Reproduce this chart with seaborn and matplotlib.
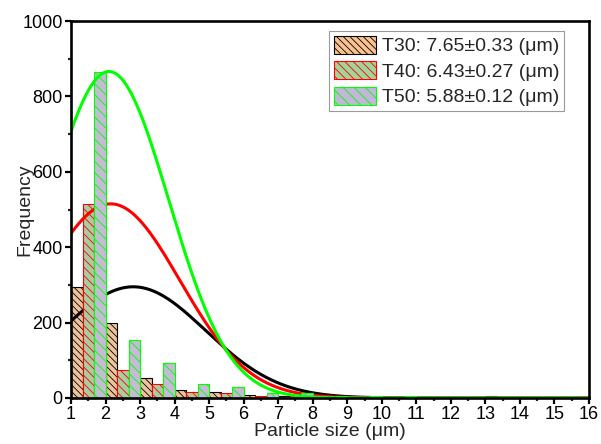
import numpy as np
import pandas as pd
import matplotlib
matplotlib.use("Agg")
import matplotlib.pyplot as plt
import seaborn as sns
from matplotlib.patches import Patch
from matplotlib.ticker import MultipleLocator

# Size bins (µm): each bin runs from its left edge to the next integer
bin_left = [1, 2, 3, 4, 5, 6, 7, 8, 9, 10, 11, 12, 13, 14, 15]

series = ["T30", "T40", "T50"]
t30_counts = [295, 200, 52, 21, 15, 7, 5, 3, 2, 1, 0, 0, 4, 0, 0]
t40_counts = [515, 73, 36, 15, 12, 6, 4, 3, 3, 1, 0, 0, 0, 0, 0]
t50_counts = [865, 153, 93, 37, 28, 12, 12, 6, 6, 6, 0, 0, 0, 0, 0]

legend_labels = ["T30: 7.65\u00b10.33 (\u03bcm)",
                 "T40: 6.43\u00b10.27 (\u03bcm)",
                 "T50: 5.88\u00b10.12 (\u03bcm)"]

# Gaussian fit parameters for each distribution
fit_center = [2.8, 2.15, 2.1]
fit_sigma = [2.1, 2.0, 1.73]
fit_peak = [295, 515, 866]

fill_colors = ["#FAC290", "#A3D49A", "#C3B7D9"]
line_colors = ["#000000", "#FF0000", "#00FF00"]
hatches = ["\\\\\\\\\\", "\\\\\\\\", "\\\\\\"]

sns.set_style("ticks")
plt.rcParams["font.family"] = ["Liberation Sans", "DejaVu Sans"]
plt.rcParams["hatch.linewidth"] = 0.6

df = pd.DataFrame({
    "center": np.concatenate([np.array(bin_left) + 0.5] * 3),
    "count": t30_counts + t40_counts + t50_counts,
    "series": np.repeat(series, len(bin_left)),
})

fig = plt.figure(figsize=(6.01, 4.44), dpi=100)
ax = fig.add_axes([71 / 601, 1 - 398 / 444, 518 / 601, 377 / 444])

sns.barplot(data=df, x="center", y="count", hue="series", hue_order=series,
            palette=dict(zip(series, fill_colors)), native_scale=True,
            width=1, gap=0, dodge=True, errorbar=None, legend=False,
            linewidth=0.8, ax=ax)

xs = np.linspace(1, 16, 600)
for k, cont in enumerate(ax.containers):
    for bar in cont:
        bar.set_edgecolor(line_colors[k])
        bar.set_hatch(hatches[k])
        bar.set_zorder(2 + k)
    ys = fit_peak[k] * np.exp(-(xs - fit_center[k]) ** 2 / (2 * fit_sigma[k] ** 2))
    sns.lineplot(x=xs, y=ys, color=line_colors[k], lw=2.2, ax=ax,
                 zorder=2.5 + k)

ax.set_xlim(1, 16)
ax.set_ylim(0, 1000)
ax.xaxis.set_major_locator(MultipleLocator(1))
ax.xaxis.set_minor_locator(MultipleLocator(0.5))
ax.yaxis.set_major_locator(MultipleLocator(200))
ax.yaxis.set_minor_locator(MultipleLocator(100))
ax.tick_params(which="major", length=4, width=1.6, labelsize=13, pad=2,
               colors="black")
ax.tick_params(which="minor", length=2.2, width=1.6)
for sp in ax.spines.values():
    sp.set_visible(True)
    sp.set_linewidth(1.9)
    sp.set_color("black")
    sp.set_zorder(10)

ax.set_xlabel("Particle size (\u03bcm)", fontsize=14)
ax.set_ylabel("Frequency", fontsize=14)
ax.xaxis.set_label_coords(0.5, -0.067)
ax.yaxis.set_label_coords(-0.073, 0.5)

handles = [Patch(facecolor=fill_colors[k], edgecolor=line_colors[k],
                 hatch=hatches[k], linewidth=0.8, label=legend_labels[k])
           for k in range(3)]
leg = ax.legend(handles=handles, loc="upper right",
                bbox_to_anchor=(0.952, 0.974), fontsize=14, frameon=True,
                fancybox=False, framealpha=1, edgecolor="#9A9A9A",
                handlelength=2.2, handleheight=1.05, handletextpad=0.28,
                labelspacing=0.3, borderpad=0.25, borderaxespad=0)
leg.get_frame().set_linewidth(0.8)
leg.set_zorder(20)

fig.savefig("out.png", dpi=100)
